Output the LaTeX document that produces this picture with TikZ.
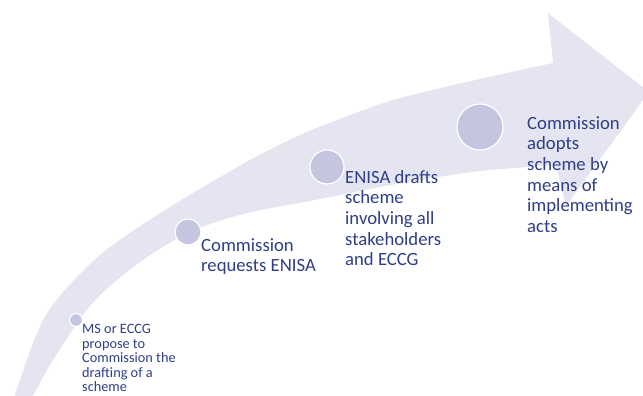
\documentclass[tikz,border=0pt]{standalone}
\usepackage{fontspec}
\setmainfont{Carlito}
\definecolor{arrowgray}{RGB}{228,229,240}
\definecolor{dotblue}{RGB}{196,198,224}
\definecolor{textblue}{RGB}{47,62,135}
\begin{document}
\begin{tikzpicture}[x=1pt,y=-1pt,
	dot/.style={circle,fill=dotblue,draw=white,line width=1.2pt,inner sep=0pt},
	steptext/.style={anchor=north west,inner sep=0pt,align=left,text=textblue,font=\fontsize{18.7}{20.7}\selectfont}]
	\useasboundingbox (0,0) rectangle (643,396);
	\clip (0,0) rectangle (643,396);

	% the big curved arrow
	\fill[arrowgray] plot[smooth] coordinates {(12,405) (20,380) (47,313) (100,255) (170,207) (250,160) (300,135) (350,115) (400,98) (480,79) (553,63)}
		-- (548,13) -- (649,92) -- (566,206) -- (556,165)
		-- plot[smooth] coordinates {(556,165) (480,171) (420,180) (380,187) (320,199) (243,214) (188,233) (140,262) (100,295) (78,322) (50,365) (33,396) (28,405)}
		-- cycle;

	\node[dot,minimum size=13pt] (dotA) at (76,320) {};
	\node[dot,minimum size=26pt] (dotB) at (188,232) {};
	\node[dot,minimum size=34pt] (dotC) at (327,167) {};
	\node[dot,minimum size=46pt] (dotD) at (480,127) {};

	\node[steptext,font=\fontsize{14.3}{14.6}\selectfont] (txtA) at (82,324) {MS or ECCG\\propose to\\Commission the\\drafting of a\\scheme};
	\node[steptext] (txtB) at (201,238) {Commission\\requests ENISA};
	\node[steptext] (txtC) at (345,170) {ENISA drafts\\scheme\\involving all\\stakeholders\\and ECCG};
	\node[steptext] (txtD) at (527,116) {Commission\\adopts\\scheme by\\means of\\implementing\\acts};
\end{tikzpicture}
\end{document}
